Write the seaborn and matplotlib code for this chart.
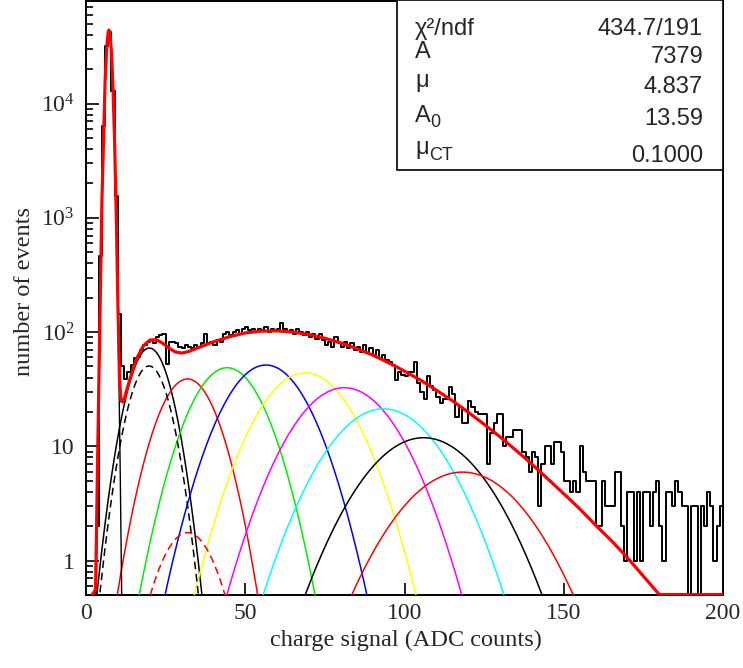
import numpy as np
import pandas as pd
import matplotlib
matplotlib.use("Agg")
import matplotlib.pyplot as plt
import seaborn as sns
from matplotlib.patches import Rectangle
from matplotlib.ticker import FixedLocator, FixedFormatter, NullFormatter

# ---------------- data ----------------
# histogram: counts in 1-ADC-wide bins, 0..199
counts = [
    0, 0, 0, 2, 460, 6300, 32000, 42000, 12900, 1540,
    144, 50, 39, 45, 52, 59, 61, 70, 77, 82,
    85, 80, 91, 94, 97, 53, 82, 82, 80, 74,
    72, 77, 74, 72, 77, 74, 80, 97, 80, 82,
    77, 85, 82, 97, 100, 94, 100, 104, 97, 107,
    111, 104, 107, 100, 107, 104, 111, 100, 107, 104,
    107, 120, 107, 100, 104, 97, 107, 100, 94, 100,
    91, 97, 87, 97, 85, 77, 82, 74, 91, 80,
    74, 82, 72, 80, 70, 74, 67, 77, 65, 72,
    63, 70, 59, 63, 57, 55, 52, 38, 45, 42,
    41, 45, 45, 55, 36, 30, 26, 41, 34, 31,
    27, 24, 26, 26, 33, 29, 18, 22, 16, 16,
    25, 22, 20, 19, 19, 19, 7, 13, 16, 19,
    19, 10, 12, 12, 14, 14, 14, 9, 8, 6,
    9, 8, 3, 7, 10, 10, 7, 11, 11, 9,
    5, 5, 4, 5, 4, 10, 6, 5, 5, 5,
    2, 2, 5, 3, 3, 3, 6, 6, 2, 1,
    4, 4, 1, 4, 1, 4, 4, 2, 4, 5,
    2, 1, 4, 4, 3, 5, 4, 3, 3, 0,
    3, 3, 0, 3, 2, 4, 3, 1, 2, 3,
]
bin_edges = list(range(0, 201))

# pedestal (0 p.e.) component
ped_center, ped_height, ped_sigma = 7.2, 44000.0, 0.84

# n-photoelectron components (peak position, peak height, width)
pe_centers = [19.9, 31.85, 44.3, 56.5, 68.8, 81.1, 93.4, 106.0, 118.2]
pe_heights = [72.5, 38.9, 48.8, 51.5, 44.1, 32.6, 21.3, 11.9, 5.95]
pe_sigmas = [5.23, 7.47, 9.12, 10.41, 11.63, 12.76, 13.8, 14.77, 15.63]
pe_colors = ["black", "red", "#00ee00", "blue", "yellow", "magenta",
             "cyan", "black", "red"]

# dashed components
dash_centers = [19.8, 31.9]
dash_heights = [50.5, 1.76]
dash_sigmas = [5.1, 7.4]
dash_colors = ["black", "red"]

# total fit curve
total_x = [2, 3, 4, 5, 6, 6.5, 7, 7.2, 7.5, 8, 8.5, 9, 9.5, 10, 10.5, 11,
           11.5, 12, 14, 16, 18, 20, 22, 24, 26, 28, 30, 32, 35, 40, 45,
           50, 55, 60, 65, 70, 75, 80, 85, 90, 95, 100, 105, 110, 115, 120,
           125, 130, 135, 140, 145, 150, 155, 160, 165, 170, 175, 180, 185,
           190, 195, 200]
total_y = [0.21, 0.56, 31.6, 1424, 15850, 31100, 42800, 44000, 41300,
           27950, 13250, 4400, 1045, 182, 40, 25, 24.5, 26, 40.8, 59.5,
           75.7, 85, 85.9, 80.3, 72.6, 67.1, 65.5, 67.3, 72.5, 82.2, 91,
           98.4, 102, 102.5, 99.9, 95, 88.3, 80.4, 71.7, 62.9, 54, 45.5, 38,
           31, 25.1, 19.9, 15.6, 12.1, 9.24, 6.98, 5.19, 3.85, 2.84, 2.04,
           1.49, 1.06, 0.73, 0.5, 0.33, 0.22, 0.14, 0.09]

stat_labels = ["χ²/ndf", "A", "μ", "A", "μ"]
stat_subs = ["", "", "", "0", "CT"]
stat_values = ["434.7/191", "7379", "4.837", "13.59", "0.1000"]

x_ticks = [0, 50, 100, 150, 200]
y_ticks = [1, 10, 100, 1000, 10000]
y_tick_labels = ["1", "10", r"$\mathregular{10^{2}}$", r"$\mathregular{10^{3}}$",
                 r"$\mathregular{10^{4}}$"]

YMIN, YMAX = 0.5, 7.9e4

# ---------------- style ----------------
sns.set_style("ticks")
plt.rcParams["font.family"] = ["Liberation Serif", "DejaVu Serif"]
plt.rcParams["mathtext.fontset"] = "custom"
plt.rcParams["mathtext.rm"] = "Liberation Serif"
plt.rcParams["mathtext.it"] = "Liberation Serif:italic"
plt.rcParams["mathtext.bf"] = "Liberation Serif:bold"

W, H = 743, 668
fig = plt.figure(figsize=(W / 100, H / 100), dpi=100)
fig.patch.set_facecolor("white")
ax = fig.add_axes([86 / W, (H - 595) / H, 637 / W, 594 / H])
ax.set_yscale("log")
ax.set_xlim(0, 200)
ax.set_ylim(YMIN, YMAX)


def gauss(x, c, h, s):
    return h * np.exp(-0.5 * ((x - c) / s) ** 2)


xf = np.linspace(0, 200, 4001)

# components
for c, h, s, col in zip(pe_centers, pe_heights, pe_sigmas, pe_colors):
    y = gauss(xf, c, h, s)
    m = y > 0.15
    sns.lineplot(x=xf[m], y=y[m], ax=ax, color=col, lw=1.1, zorder=3,
                 estimator=None, sort=False)
for c, h, s, col in zip(dash_centers, dash_heights, dash_sigmas, dash_colors):
    y = gauss(xf, c, h, s)
    m = y > 0.15
    sns.lineplot(x=xf[m], y=y[m], ax=ax, color=col, lw=1.1, zorder=3,
                 linestyle=(0, (5, 3)), estimator=None, sort=False)
yp = gauss(xf, ped_center, ped_height, ped_sigma)
mp = yp > 0.15
sns.lineplot(x=xf[mp], y=yp[mp], ax=ax, color="black", lw=1.0, zorder=3,
             estimator=None, sort=False)

# histogram (steps)
hist_y = np.array(counts + [counts[-1]], dtype=float)
hist_y = np.where(hist_y > 0, hist_y, 1e-3)
sns.lineplot(x=np.array(bin_edges, dtype=float), y=hist_y, ax=ax,
             drawstyle="steps-post", color="black", lw=1.4, zorder=4,
             estimator=None, sort=False)

# total fit
ty = np.clip(np.array(total_y), YMIN * 1.01, None)
sns.lineplot(x=np.array(total_x, dtype=float), y=ty, ax=ax, color="red",
             lw=2.3, zorder=5, estimator=None, sort=False)

# axes styling
for sp in ax.spines.values():
    sp.set_visible(True)
    sp.set_linewidth(1.4)
    sp.set_color("black")
ax.xaxis.set_major_locator(FixedLocator(x_ticks))
ax.set_xticklabels([str(t) for t in x_ticks])
ax.xaxis.set_minor_locator(FixedLocator([]))
ax.yaxis.set_major_locator(FixedLocator(y_ticks))
ax.yaxis.set_major_formatter(FixedFormatter(y_tick_labels))
minors = [m * 10.0 ** e for e in range(-1, 5) for m in range(2, 10)]
minors = [v for v in minors if YMIN <= v <= YMAX]
ax.yaxis.set_minor_locator(FixedLocator(minors))
ax.yaxis.set_minor_formatter(NullFormatter())
ax.tick_params(axis="both", which="both", direction="in", top=False,
               right=False, color="black", width=1.2)
ax.tick_params(axis="y", which="major", length=9, pad=8, labelsize=17)
ax.tick_params(axis="y", which="minor", length=5)
ax.tick_params(axis="x", which="major", length=9, pad=6, labelsize=17)
ax.set_xlabel("")
ax.set_ylabel("")

fig.text(25 / W, 1 - 292 / H, "number of events", rotation=90,
         ha="center", va="center", fontsize=17.5)
fig.text(406 / W, 1 - 640 / H, "charge signal (ADC counts)",
         ha="center", va="center", fontsize=17.5)

# stat box
bx0, by0, bx1, by1 = 397, 0.5, 723, 170
ax_box = Rectangle((bx0 / W, 1 - by1 / H), (bx1 - bx0) / W, (by1 - by0) / H,
                   transform=fig.transFigure, facecolor="white",
                   edgecolor="black", lw=1.2, zorder=10)
fig.patches.append(ax_box)
sans = ["Liberation Sans", "DejaVu Sans"]
label_base = [35, 58, 87, 121.5, 154]
sub_base = [0, 0, 0, 127, 160]
sub_x = [0, 0, 0, 430, 429]
value_base = [35, 63, 93, 125, 161.5]
for lab, sub, val, lb, sb, sx, vb in zip(stat_labels, stat_subs, stat_values,
                                          label_base, sub_base, sub_x,
                                          value_base):
    fig.text(415 / W, 1 - lb / H, lab, ha="left", va="baseline",
             fontsize=17, family=sans, zorder=11)
    if sub:
        fig.text(sx / W, 1 - sb / H, sub, ha="left", va="baseline",
                 fontsize=13, family=sans, zorder=11)
    fig.text(703 / W, 1 - vb / H, val, ha="right", va="baseline",
             fontsize=17, family=sans, zorder=11)

fig.savefig("out.png", dpi=100, facecolor="white")
